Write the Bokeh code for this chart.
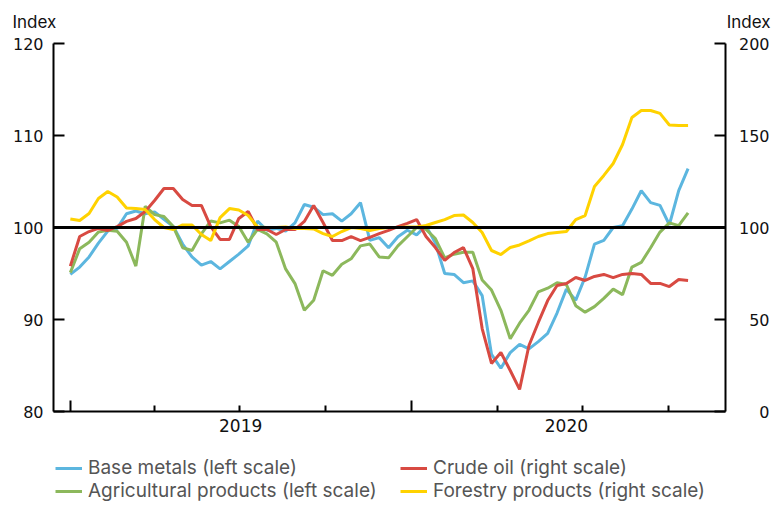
import pandas as pd
from bokeh.plotting import figure
from bokeh.layouts import column, row
from bokeh.models import (Range1d, LinearAxis, FixedTicker, Span, Legend, LegendItem,
                          ColumnDataSource)
from bokeh.core.properties import value
from bokeh.embed import file_html
from bokeh.resources import INLINE

# ---------------- data ----------------
start_date = "2019-01-01"
step = "10D"

base_metals = [94.9, 95.7, 96.8, 98.3, 99.6, 99.9, 101.5, 101.8, 101.5, 101.7,
               100.9, 100.1, 98.2, 96.8, 95.9, 96.3, 95.5, 96.3, 97.1, 98.0,
               100.7, 99.7, 99.9, 99.6, 100.5, 102.5, 102.2, 101.4, 101.5, 100.7,
               101.5, 102.7, 98.6, 98.9, 97.8, 99.0, 99.7, 99.2, 100.2, 98.3,
               95.0, 94.9, 94.0, 94.2, 92.6, 86.2, 84.7, 86.4, 87.3, 86.8,
               87.6, 88.5, 90.7, 93.3, 92.1, 94.6, 98.2, 98.6, 100.0, 100.2,
               102.0, 104.0, 102.7, 102.4, 100.3, 104.0, 106.4]

agricultural = [95.1, 97.7, 98.4, 99.5, 99.7, 99.6, 98.4, 95.8, 102.3, 101.4,
                101.2, 100.1, 97.8, 97.5, 99.3, 100.7, 100.5, 100.8, 100.1, 98.4,
                99.8, 99.3, 98.4, 95.5, 93.9, 91.0, 92.1, 95.3, 94.8, 96.0,
                96.6, 98.0, 98.2, 96.8, 96.7, 98.0, 99.0, 100.0, 99.8, 98.8,
                96.7, 97.1, 97.3, 97.3, 94.3, 93.2, 91.0, 87.9, 89.6, 91.0,
                93.0, 93.4, 94.0, 93.8, 91.5, 90.8, 91.4, 92.3, 93.3, 92.7,
                95.7, 96.2, 97.8, 99.5, 100.5, 100.2, 101.6]

crude_oil = [79.0, 95.1, 97.8, 99.5, 98.4, 100.5, 103.3, 104.9, 108.7, 114.7,
             121.2, 121.2, 115.2, 112.0, 112.0, 100.5, 93.5, 93.5, 104.9, 108.7,
             98.9, 98.9, 96.2, 98.9, 98.9, 103.3, 112.0, 102.7, 92.9, 92.9,
             95.1, 92.9, 94.6, 96.7, 98.4, 100.5, 102.2, 104.3, 95.1, 89.1,
             82.1, 86.4, 89.1, 77.7, 45.1, 26.1, 32.1, 22.3, 12.0, 35.9,
             48.4, 60.3, 68.5, 69.6, 72.8, 71.2, 73.4, 74.5, 72.8, 74.5,
             75.0, 74.5, 69.6, 69.6, 67.9, 71.7, 71.2]

forestry = [104.6, 103.8, 107.6, 115.8, 119.6, 116.6, 110.6, 110.3, 109.8, 104.3,
            100.0, 98.9, 101.4, 101.4, 96.2, 92.9, 105.4, 110.3, 109.5, 106.5,
            100.3, 100.0, 100.0, 100.3, 99.5, 99.5, 99.2, 96.7, 95.1, 97.8,
            100.0, 99.5, 98.4, 99.5, 100.0, 100.0, 100.3, 100.3, 101.1, 102.7,
            104.3, 106.5, 106.8, 102.7, 97.3, 87.5, 85.3, 89.1, 90.5, 92.7,
            95.1, 96.7, 97.3, 97.8, 104.3, 106.5, 122.3, 128.3, 134.8, 145.1,
            159.8, 163.6, 163.6, 162.0, 155.7, 155.4, 155.4]

left_ticks = [80, 90, 100, 110, 120]
right_ticks = [0, 50, 100, 150, 200]
year_starts = ["2019-01-01", "2020-01-01"]
quarter_starts = ["2019-04-01", "2019-07-01", "2019-10-01",
                  "2020-04-01", "2020-07-01", "2020-10-01"]
year_labels = ["2019", "2020"]
year_label_dates = ["2019-07-02", "2020-06-14"]
axis_title = "Index"
series_names = ["Base metals (left scale)", "Agricultural products (left scale)",
                "Crude oil (right scale)", "Forestry products (right scale)"]
colors = ["#5cb6df", "#8cb85c", "#d84a42", "#ffd200"]

dates = pd.date_range(start_date, periods=len(base_metals), freq=step)


def ms(s):
    return pd.Timestamp(s).value / 1e6


FONT = "Inter"
NUMFONT = "DejaVu Sans"
TXT = "#111111"
W = 774
HEAD_H = 32
FL, FW, FH = 53, 672, 368                # frame left / width / height
FT = 43 - HEAD_H                         # main top border below the header
MAIN_BR, MAIN_BB = 2, 34
MAIN_W = FL + FW + MAIN_BR               # 727
MAIN_H = FT + FH + MAIN_BB
STRIP_W = W - MAIN_W                     # 47
STRIP_BL = 43
FOOT_H = 61

x_rng = Range1d(ms("2018-12-14"), ms("2020-12-01"))
y_left = Range1d(80, 120)
y_right = Range1d(0, 200)


def clean(fig):
    fig.xgrid.visible = False
    fig.ygrid.visible = False
    fig.outline_line_color = None
    fig.background_fill_color = "white"
    fig.border_fill_color = "white"


def style_axis(ax):
    ax.axis_line_color = "black"
    ax.axis_line_width = 2
    ax.major_tick_line_color = "black"
    ax.major_tick_line_width = 2
    ax.minor_tick_line_color = "black"
    ax.minor_tick_line_width = 2
    ax.major_tick_out = 0
    ax.minor_tick_out = 0
    ax.major_label_text_font = NUMFONT
    ax.major_label_text_font_size = "16px"
    ax.major_label_text_color = TXT


def bare_axis(ax):
    ax.axis_line_color = None
    ax.major_tick_line_color = None
    ax.minor_tick_line_color = None
    ax.major_tick_in = 0
    ax.minor_tick_in = 0
    ax.minor_tick_out = 0


# ---------------- header: the two "Index" axis titles ----------------
head_kw = dict(width=W, height=HEAD_H, x_range=Range1d(0, W), y_range=Range1d(0, HEAD_H),
               x_axis_location=None, y_axis_location=None, output_backend="svg",
               toolbar_location=None, min_border=0)
try:
    head = figure(frame_align=False, **head_kw)
except Exception:
    head = figure(**head_kw)
clean(head)
head.text(x=[12], y=[HEAD_H - 21.7], text=[axis_title], text_align="left",
          text_baseline="alphabetic", text_font=value(FONT), text_font_size="17px",
          text_color=TXT)
head.text(x=[770], y=[HEAD_H - 21.7], text=[axis_title], text_align="right",
          text_baseline="alphabetic", text_font=value(FONT), text_font_size="17px",
          text_color=TXT)

# ---------------- main chart ----------------
p = figure(width=MAIN_W, height=MAIN_H, x_axis_type="datetime", output_backend="svg",
           toolbar_location=None, x_range=x_rng, y_range=y_left,
           min_border_left=FL, min_border_right=MAIN_BR, min_border_top=FT,
           min_border_bottom=MAIN_BB)
p.extra_y_ranges = {"right": y_right}
clean(p)

xa = p.below[0]          # the figure's own date axis
yl = p.left[0]

style_axis(yl)
yl.ticker = FixedTicker(ticks=left_ticks)
yl.major_tick_in = 11
yl.minor_tick_in = 0
yl.major_label_standoff = 10

yr = LinearAxis(y_range_name="right", ticker=FixedTicker(ticks=right_ticks))
style_axis(yr)
yr.major_tick_in = 11
yr.minor_tick_in = 0
yr.major_label_overrides = {t: "" for t in right_ticks}
yr.major_label_text_font_size = "0px"
yr.major_label_standoff = 0
p.add_layout(yr, "right")

style_axis(xa)
year_ms = [ms(d) for d in year_starts]
xa.ticker = FixedTicker(ticks=year_ms, minor_ticks=[ms(d) for d in quarter_starts])
xa.major_tick_in = 11
xa.minor_tick_in = 6
xa.major_label_overrides = {t: "" for t in year_ms}
xa.major_label_text_font_size = "0px"
xa.major_label_standoff = 0

# year labels centred under each year's visible span
ly = [ms(d) for d in year_label_dates]
ya = LinearAxis(ticker=FixedTicker(ticks=ly, minor_ticks=[]))
style_axis(ya)
bare_axis(ya)
ya.major_tick_out = 0
ya.major_label_overrides = dict(zip(ly, year_labels))
ya.major_label_standoff = 7
ya.major_label_text_font_size = "17px"
p.add_layout(ya, "below")

p.add_layout(Span(location=100, dimension="width", line_color="black", line_width=3))

src = ColumnDataSource(dict(date=dates, bm=base_metals, ag=agricultural,
                            co=crude_oil, fo=forestry))
p.line("date", "bm", source=src, line_color=colors[0], line_width=3)
p.line("date", "ag", source=src, line_color=colors[1], line_width=3)
p.line("date", "co", source=src, line_color=colors[2], line_width=3, y_range_name="right")
p.line("date", "fo", source=src, line_color=colors[3], line_width=3, y_range_name="right")

# ---------------- strip: right-scale tick labels (right aligned) ----------------
strip = figure(width=STRIP_W, height=MAIN_H, x_range=Range1d(0, 1), y_range=y_right,
               x_axis_location=None, y_axis_location="left", output_backend="svg",
               toolbar_location=None, min_border_left=STRIP_BL, min_border_right=0,
               min_border_top=FT, min_border_bottom=MAIN_BB)
clean(strip)
sa = strip.left[0]
style_axis(sa)
sa.ticker = FixedTicker(ticks=right_ticks)
bare_axis(sa)
sa.major_tick_out = 0
sa.major_label_standoff = 1

# ---------------- footer: legend ----------------
foot = figure(width=W, height=FOOT_H, x_range=x_rng, y_range=Range1d(0, 1),
              x_axis_location=None, y_axis_location=None,
              output_backend="svg", toolbar_location=None,
              min_border_left=FL, min_border_right=W - FL - FW,
              min_border_top=0, min_border_bottom=0)
clean(foot)

# the same series, drawn in the footer only to supply the legend glyphs
# (their values lie far outside this footer's 0..1 range, so nothing shows)
fsrc = ColumnDataSource(dict(date=dates, bm=base_metals, ag=agricultural,
                             co=crude_oil, fo=forestry))
frs = [foot.line("date", k, source=fsrc, line_color=c, line_width=3)
       for k, c in zip(["bm", "ag", "co", "fo"], colors)]
legend = Legend(items=[LegendItem(label=n, renderers=[r]) for n, r in zip(series_names, frs)],
                location=(2, 4), ncols=2, orientation="vertical",
                padding=0, margin=0, spacing=0,
                border_line_color=None, background_fill_alpha=0,
                glyph_width=27, glyph_height=22, label_height=22,
                label_standoff=6, label_width=312,
                label_text_font=FONT, label_text_font_size="19px",
                label_text_color="#555555")
foot.add_layout(legend)

layout = column(head, row(p, strip), foot)
open("out.html", "w").write(file_html(layout, INLINE))
